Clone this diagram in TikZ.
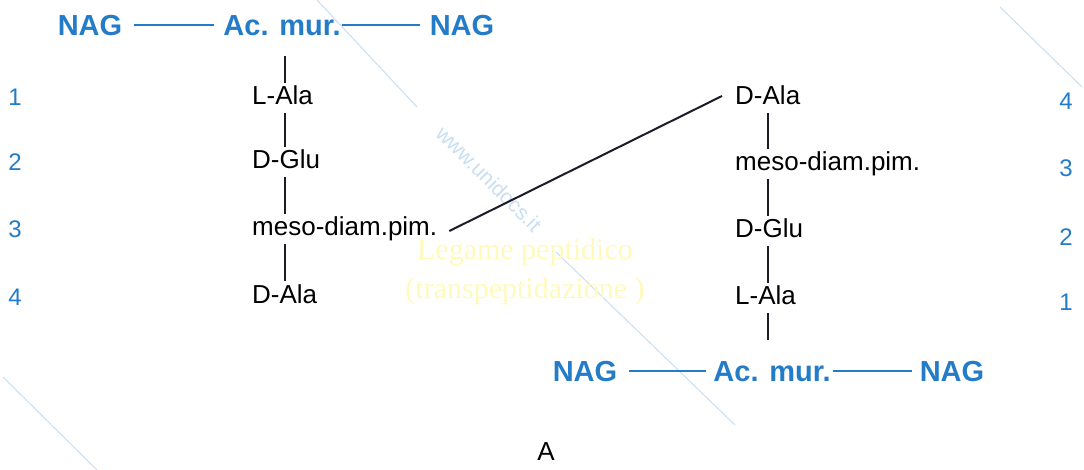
\documentclass[tikz,border=0pt]{standalone}
\usepackage{fontspec}
\setmainfont{Liberation Sans}
\newfontfamily\serifface{Liberation Serif}
\usetikzlibrary{calc}

\definecolor{sugarblue}{RGB}{36,124,200}
\definecolor{chainink}{RGB}{30,26,40}
\definecolor{bondyellow}{RGB}{255,250,185}
\definecolor{markblue}{RGB}{200,222,242}

\tikzset{
  sugar/.style={font=\fontsize{29}{29}\selectfont\bfseries, text=sugarblue,
    inner sep=0pt, text height=21pt, text depth=0pt},
  residue/.style={font=\fontsize{26}{26}\selectfont, text=black, anchor=west,
    inner xsep=0pt, inner ysep=3pt, text height=19pt, text depth=5pt},
  posnum/.style={font=\fontsize{24}{24}\selectfont, text=sugarblue, inner sep=0pt},
  glyco/.style={draw=sugarblue, line width=1.5pt},
  chain/.style={draw=chainink, line width=2pt},
  link/.style={draw=chainink, line width=2pt},
  bondlabel/.style={font=\serifface\fontsize{30}{39}\selectfont, text=bondyellow,
    inner sep=0pt, align=center},
  faintline/.style={draw=markblue, line width=1pt},
}

\begin{document}
\begin{tikzpicture}[x=1pt, y=-1pt]
  \useasboundingbox (0,0) rectangle (1084,470);

  % faint background marks
  \draw[faintline] (317,0) -- (417,107);
  \draw[faintline] (556,252) -- (735,425);
  \draw[faintline] (1000,7) -- (1082,87);
  \draw[faintline] (3,377) -- (97,470);
  \node[font=\fontsize{21}{21}\selectfont, text=markblue, rotate=-45, inner sep=0pt]
    (web) at (489,179) {www.unidocs.it};

  % first strand: glycan backbone
  \node[sugar] (nagA) at (90,25) {NAG};
  \node[sugar] (murA) at (282,25) {Ac. mur.};
  \node[sugar] (nagB) at (462,25) {NAG};
  \draw[glyco, shorten <=12pt, shorten >=9pt] (nagA.east) -- (murA.west);
  \draw[glyco, shorten <=1pt, shorten >=10pt] (murA.east) -- (nagB.west);

  % first strand: peptide stem
  \coordinate (colA) at (285,0);
  \node[residue] (a1) at (252,98)  {L-Ala};
  \node[residue] (a2) at (252,162) {D-Glu};
  \node[residue] (a3) at (252,229) {meso-diam.pim.};
  \node[residue] (a4) at (252,296) {D-Ala};
  \draw[chain] ($(colA |- murA.south)+(0,20)$) -- (colA |- a1.north);
  \draw[chain] (colA |- a1.south) -- (colA |- a2.north);
  \draw[chain] (colA |- a2.south) -- (colA |- a3.north);
  \draw[chain] (colA |- a3.south) -- (colA |- a4.north);

  \node[posnum] (nA1) at (15,97)  {1};
  \node[posnum] (nA2) at (15,162) {2};
  \node[posnum] (nA3) at (15,229) {3};
  \node[posnum] (nA4) at (15,297) {4};

  % second strand: peptide stem
  \coordinate (colB) at (768,0);
  \node[residue] (b4) at (735,98)  {D-Ala};
  \node[residue] (b3) at (735,164) {meso-diam.pim.};
  \node[residue] (b2) at (735,231) {D-Glu};
  \node[residue] (b1) at (735,298) {L-Ala};
  \draw[chain] (colB |- b4.south) -- (colB |- b3.north);
  \draw[chain] (colB |- b3.south) -- (colB |- b2.north);
  \draw[chain] (colB |- b2.south) -- (colB |- b1.north);

  \node[posnum] (nB4) at (1066,101) {4};
  \node[posnum] (nB3) at (1066,168) {3};
  \node[posnum] (nB2) at (1066,237) {2};
  \node[posnum] (nB1) at (1066,302) {1};

  % second strand: glycan backbone
  \node[sugar] (nagC) at (585,371) {NAG};
  \node[sugar] (murB) at (772,371) {Ac. mur.};
  \node[sugar] (nagD) at (952,371) {NAG};
  \draw[glyco, shorten <=12pt, shorten >=7pt] (nagC.east) -- (murB.west);
  \draw[glyco, shorten <=2pt, shorten >=8pt] (murB.east) -- (nagD.west);
  \draw[chain] (colB |- b1.south) -- ($(colB |- murB.north)+(0,-20)$);

  % cross-link between the two stems
  \draw[link] ($(a3.east)+(12,2)$) -- ($(b4.west)+(-13,-2)$);
  \node[bondlabel] (bond) at (525,272)
    {Legame peptidico\\(transpeptidazione )};

  \node[font=\fontsize{26}{26}\selectfont, inner sep=0pt] (panel) at (546,452) {A};
\end{tikzpicture}
\end{document}
